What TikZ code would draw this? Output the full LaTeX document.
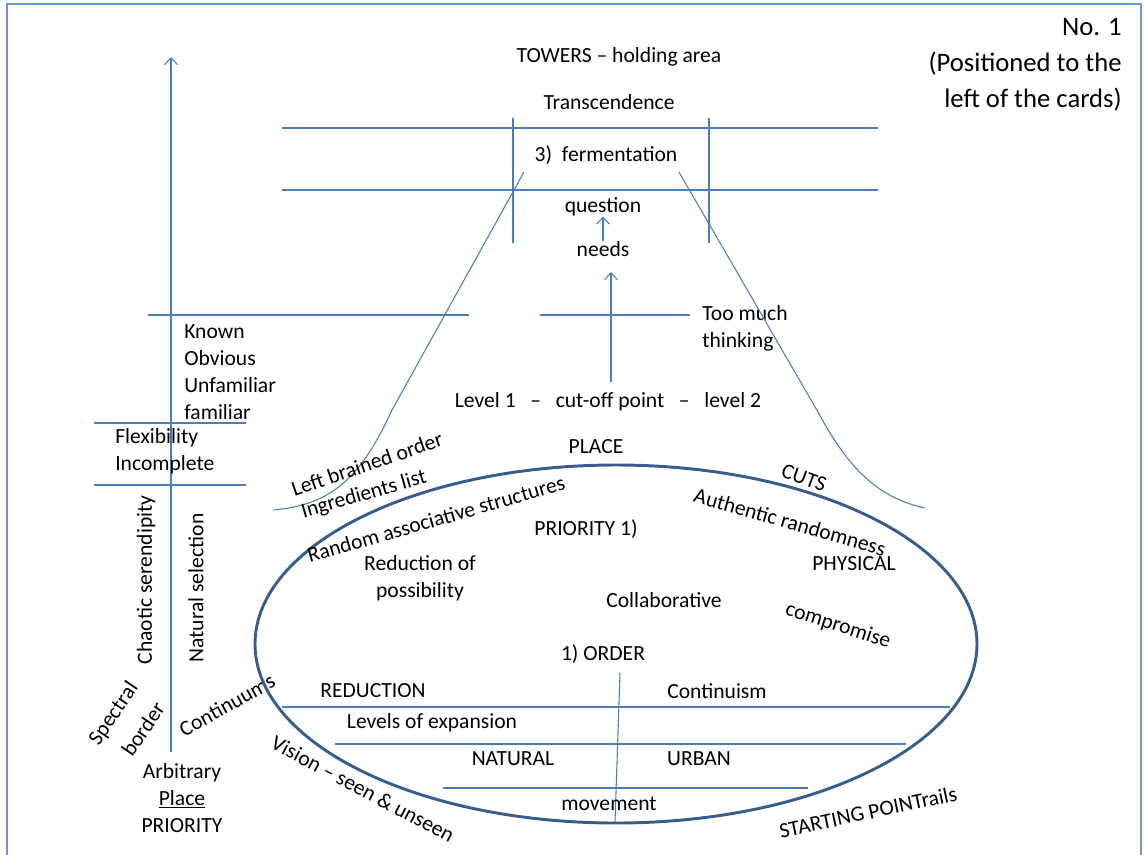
\documentclass[tikz,border=0pt]{standalone}
\usepackage{fontspec}
\setmainfont{Carlito}
\usetikzlibrary{arrows.meta}
\definecolor{lineblue}{HTML}{4A7EBB}
\definecolor{rimblue}{HTML}{385D8A}
\definecolor{frameblue}{HTML}{6A98D4}
\tikzset{
  lbl/.style={inner sep=0pt, align=center, font=\fontsize{16.2}{20.25}\selectfont},
  lbll/.style={lbl, align=left, anchor=west},
  guide/.style={draw=lineblue, line width=0.8pt},
  rim/.style={draw=rimblue, line width=2.2pt},
  flow/.style={guide, -{Straight Barb[length=1.8mm, width=3.4mm]}},
  pagebox/.style={draw=frameblue, line width=1.6pt},
}

\begin{document}
\begin{tikzpicture}[x=0.75pt, y=-0.75pt]
\useasboundingbox (0,0) rectangle (1144,854);
% --- page frame ---
\draw[pagebox] (7,858) -- (7,4) -- (1141,4) -- (1141,858);
% --- towers ---
\node[lbl] (towers) at (619,57) {TOWERS -- holding area};
\node[lbl] (transc) at (609,102) {Transcendence};
\node[lbl] (ferment) at (606,155) {3)\ \ fermentation};
\node[lbl] (question) at (603,207) {question};
\node[lbl] (needs) at (603,249) {needs};
\draw[guide] (282,128) -- (878,128);
\draw[guide] (282,190) -- (878,190);
\draw[guide] (513,118) -- (513,243);
\draw[guide] (709,118) -- (709,243);
\draw[flow] (needs) -- (question);
% --- cut-off ---
\node[lbl] (cutoff) at (608,402) {Level 1 \ \ -- \ \ cut-off point \ \ -- \ \ level 2};
\node[lbll] (toomuch) at (702,328) {Too much\\thinking};
\coordinate (stem) at (611,382);
\coordinate (needsin) at (611,272);
\draw[guide] (540,315) -- (690,315);
\draw[flow] (stem) -- (needsin);
% --- left scale ---
\coordinate (scalebot) at (171,752);
\coordinate (scaletop) at (171,57);
\draw[flow] (scalebot) -- (scaletop);
\draw[guide] (148,315) -- (469,315);
\draw[guide] (94,423) -- (246,423);
\draw[guide] (94,485) -- (246,485);
\node[lbll] (known) at (184,372) {Known\\Obvious\\Unfamiliar\\familiar};
\node[lbll] (flex) at (115,451) {Flexibility\\Incomplete};
\node[lbl, rotate=90] (chaotic) at (146,580) {Chaotic serendipity};
\node[lbl, rotate=90] (natsel) at (196,588) {Natural selection};
\node[lbl, rotate=56] (spectral) at (114,714) {Spectral};
\node[lbl, rotate=56] (border) at (143,729) {border};
\node[lbl, rotate=29] (contin) at (227,705) {Continuums};
\node[lbl] (arbit) at (182,798) {Arbitrary\\\underline{Place}\\PRIORITY};
% --- side curves ---
\draw[guide] (524,172) -- (392,410) .. controls (360,480) and (330,505) .. (273,510);
\draw[guide] (679,172) -- (818,412) .. controls (848,468) and (878,498) .. (925,508);
% --- place ellipse ---
\draw[rim] (616,644) ellipse [x radius=270.75pt, y radius=134.25pt];
\draw[guide] (282,707) -- (950,707);
\draw[guide] (335,744) -- (906,744);
\draw[guide] (443,788) -- (808,788);
\coordinate (ordtop) at (620,673);
\coordinate (ordbot) at (615,822);
\draw[guide] (ordtop) -- (ordbot);
\node[lbl] (place) at (596,447) {PLACE};
\node[lbl, rotate=-20] (cuts) at (804,478) {CUTS};
\node[lbl, rotate=19] (leftbr) at (367,464) {Left brained order};
\node[lbl, rotate=16] (ingred) at (364,495) {Ingredients list};
\node[lbl, rotate=16] (randas) at (436,519) {Random associative structures};
\node[lbl, rotate=-16] (authrand) at (790,522) {Authentic randomness};
\node[lbl] (prio) at (586,529) {PRIORITY 1)};
\node[lbl] (physical) at (854,564) {PHYSICAL};
\node[lbl] (reduct) at (420,578) {Reduction of\\possibility};
\node[lbl] (collab) at (664,600) {Collaborative};
\node[lbl, rotate=-18] (compro) at (838,626) {compromise};
\node[lbl] (order) at (603,654) {1) ORDER};
\node[lbl] (reduction) at (373,691) {REDUCTION};
\node[lbl] (continuism) at (717,691) {Continuism};
\node[lbl] (levels) at (432,723) {Levels of expansion};
\node[lbl] (natural) at (513,759) {NATURAL};
\node[lbl] (urban) at (699,759) {URBAN};
\node[lbl] (movement) at (609,804) {movement};
\node[lbl, rotate=-28] (vision) at (363,789) {Vision -- seen \& unseen};
\node[lbl, rotate=12] (startpt) at (868,812) {STARTING POINTrails};
% --- card note ---
\node[lbl, align=right, anchor=north east, font=\fontsize{20}{27}\selectfont] (cardnote) at (1122,18) {No. 1\\(Positioned to the\\left of the cards)};
\end{tikzpicture}
\end{document}
